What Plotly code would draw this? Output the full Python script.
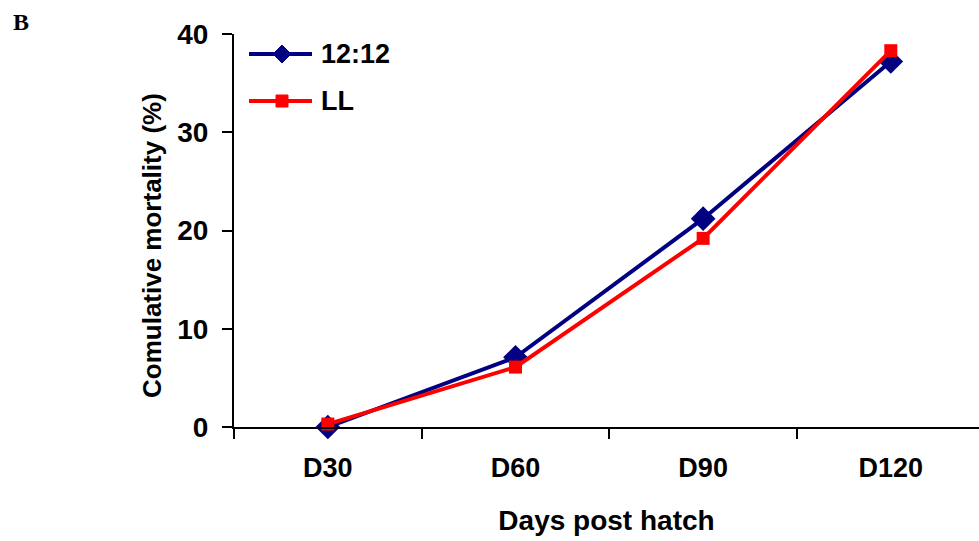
import plotly.graph_objects as go

categories = ["D30", "D60", "D90", "D120"]
series_1212 = [0.0, 7.1, 21.2, 37.2]
series_ll = [0.3, 6.1, 19.2, 38.3]
y_ticks = [0, 10, 20, 30, 40]
legend_names = ["12:12", "LL"]
colors = ["#000080", "#FF0000"]

font_family = "Liberation Sans, Arial, sans-serif"

# plot-area geometry in pixels (used only for the hand-drawn legend and titles)
L, T, W, H = 234, 34, 745, 393


def px(x):
    return (x - L) / W


def py(y):
    return (T + H - y) / H


fig = go.Figure()
fig.add_trace(go.Scatter(
    x=categories, y=series_1212, name=legend_names[0], mode="lines+markers",
    line=dict(color=colors[0], width=4),
    marker=dict(symbol="diamond", size=19, color=colors[0]),
    cliponaxis=False, showlegend=False,
))
fig.add_trace(go.Scatter(
    x=categories, y=series_ll, name=legend_names[1], mode="lines+markers",
    line=dict(color=colors[1], width=4),
    marker=dict(symbol="square", size=13, color=colors[1]),
    cliponaxis=False, showlegend=False,
))

# legend drawn as shapes + annotations
shapes = []
annotations = []
rows = [54, 101]
for i, (name, col, yy) in enumerate(zip(legend_names, colors, rows)):
    shapes.append(dict(type="line", xref="paper", yref="paper",
                       x0=px(249), x1=px(312), y0=py(yy), y1=py(yy),
                       line=dict(color=col, width=4)))
    if i == 0:
        cx, h = 282, 9
        path = (f"M {px(cx - h)} {py(yy)} L {px(cx)} {py(yy - h)} "
                f"L {px(cx + h)} {py(yy)} L {px(cx)} {py(yy + h)} Z")
        shapes.append(dict(type="path", xref="paper", yref="paper", path=path,
                           fillcolor=col, line=dict(color=col, width=1)))
    else:
        cx, h = 282, 6
        shapes.append(dict(type="rect", xref="paper", yref="paper",
                           x0=px(cx - h), x1=px(cx + h), y0=py(yy - h), y1=py(yy + h),
                           fillcolor=col, line=dict(color=col, width=1)))
    annotations.append(dict(text=name, xref="paper", yref="paper",
                            x=px(319), y=py(yy), xanchor="left", yanchor="middle",
                            showarrow=False,
                            font=dict(size=27, family=font_family, weight="bold",
                                      color="black")))

annotations.append(dict(
    text="B", xref="paper", yref="paper", x=px(11), y=py(22),
    xanchor="left", yanchor="middle", showarrow=False,
    font=dict(size=24, family="Liberation Serif, Times New Roman, serif",
              weight="bold", color="black"),
))
annotations.append(dict(
    text="Comulative mortality (%)", xref="paper", yref="paper",
    x=px(152), y=py(246), xanchor="center", yanchor="middle", textangle=-90,
    showarrow=False,
    font=dict(size=26, family=font_family, weight="bold", color="black"),
))

fig.update_layout(
    width=979, height=541,
    margin=dict(l=L, r=0, t=T, b=541 - T - H),
    paper_bgcolor="white", plot_bgcolor="white",
    font=dict(family=font_family, color="black", size=20, weight="bold"),
    showlegend=False,
    xaxis=dict(
        type="category", categoryorder="array", categoryarray=categories,
        range=[-0.5, 3.47], showline=True, linecolor="black", linewidth=2,
        ticks="outside", ticklen=10, tickwidth=2, tickcolor="black",
        tickson="boundaries", showgrid=False, zeroline=False,
        ticklabelstandoff=16,
        tickfont=dict(size=27, family=font_family, weight="bold"),
        title=dict(text="Days post hatch", standoff=28,
                   font=dict(size=28, family=font_family, weight="bold")),
    ),
    yaxis=dict(
        range=[0, 40], tickvals=y_ticks, showline=True, linecolor="black",
        linewidth=2, ticks="outside", ticklen=10, tickwidth=2, tickcolor="black",
        showgrid=False, zeroline=False, ticklabelstandoff=8,
        tickfont=dict(size=28, family=font_family, weight="bold"),
    ),
    shapes=shapes,
    annotations=annotations,
)

fig.write_html("out.html")
